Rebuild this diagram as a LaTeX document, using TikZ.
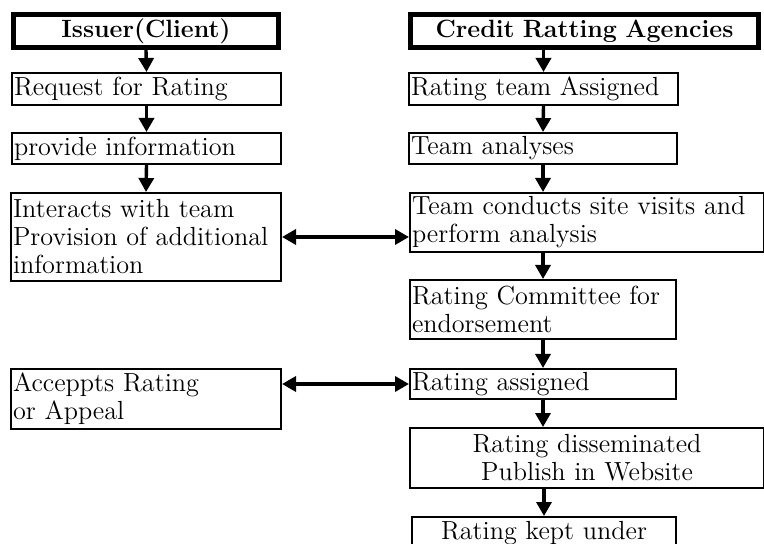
\documentclass[tikz,border=0pt]{standalone}
\usepackage{tikz}
\usetikzlibrary{arrows.meta}

\begin{document}
\begin{tikzpicture}[x=0.5pt, y=-0.5pt,
        every node/.style={font=\fontsize{13.1}{14}\selectfont, inner sep=1pt, anchor=north west, align=left},
        box/.style={draw, line width=1pt},
        head/.style={draw, line width=2.5pt, font=\fontsize{12.5}{14}\selectfont\bfseries, align=center},
        arr/.style={-{Triangle[length=7pt,width=7.5pt]}, line width=1.7pt},
        dblarr/.style={{Triangle[length=7pt,width=7.5pt]}-{Triangle[length=7pt,width=7.5pt]}, line width=1.7pt}]
        \useasboundingbox (0,0) rectangle (764,544);
        % the issuer side
        \node[head, text width=130.5pt, minimum height=16.5pt] (issuer) at (11,12) {Issuer(Client)};
        \node[box, text width=132.5pt, minimum height=16pt] (request) at (11,72) {Request for Rating};
        \node[box, text width=132.5pt, minimum height=15.5pt] (provide) at (11,132) {provide information};
        \node[box, text width=133pt, minimum height=44pt] (interacts) at (10,192) {Interacts with team\\Provision of additional\\information};
        \node[box, text width=133pt, minimum height=30pt] (accepts) at (10,368) {Acceppts Rating\\or Appeal};
        % the agency side
        \node[head, text width=172pt, minimum height=16.5pt] (cra) at (408,12) {Credit Ratting Agencies};
        \node[box, text width=132.5pt, minimum height=16pt] (rteam) at (408,72) {Rating team Assigned};
        \node[box, text width=132pt, minimum height=15.5pt] (tanal) at (408,132) {Team analyses};
        \node[box, text width=175pt, minimum height=29.5pt] (tcond) at (409,192) {Team conducts site visits and\\perform analysis};
        \node[box, text width=131pt, minimum height=29.5pt] (commit) at (409,279) {Rating Committee for\\endorsement};
        \node[box, text width=131pt, minimum height=15pt] (assigned) at (409,368) {Rating assigned};
        \node[box, text width=175pt, minimum height=30pt, align=center] (dissem) at (409,427) {Rating disseminated\\Publish in Website};
        \node[box, text width=130pt, minimum height=16pt, align=center] (kept) at (411,516) {Rating kept under};
        % down the columns
        \foreach \a/\b in {issuer/request, request/provide, provide/interacts, rteam/tanal, commit/assigned}
            \draw[arr] (\a.south) -- (\b.north);
        \foreach \a/\b in {cra/rteam, tcond/commit, dissem/kept}
            \draw[arr] (\a.south -| \b.north) -- (\b.north);
        \foreach \a/\b in {tanal/tcond, assigned/dissem}
            \draw[arr] (\a.south) -- (\a.south |- \b.north);
        % across: issuer <-> agency
        \draw[dblarr] (interacts.east) -- (interacts.east -| tcond.west);
        \draw[dblarr] (assigned.west -| accepts.east) -- (assigned.west);
    \end{tikzpicture}
\end{document}
